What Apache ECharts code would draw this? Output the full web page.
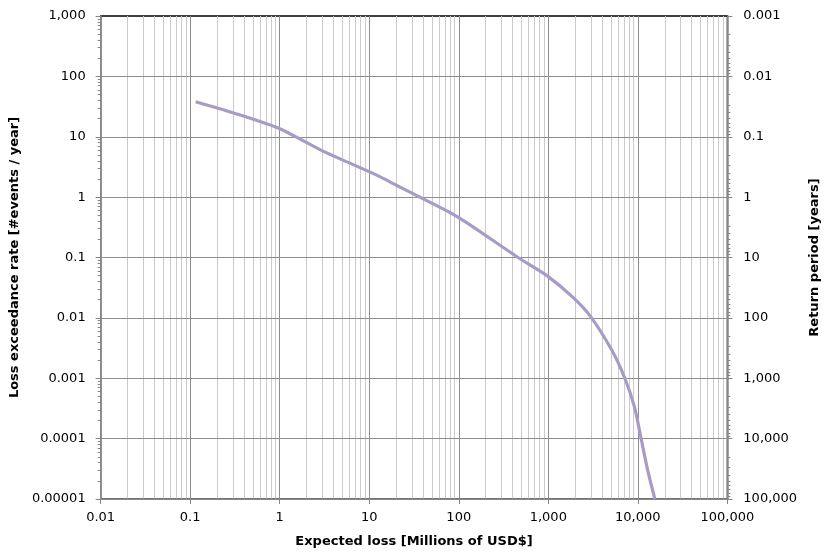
<!DOCTYPE html>
<html>
<head>
<meta charset="utf-8">
<script src="https://cdn.jsdelivr.net/npm/echarts@6/dist/echarts.min.js"></script>
<style>html,body{margin:0;padding:0;background:#fff}#c{width:829px;height:556px}</style>
</head>
<body>
<div id="c"></div>
<script>
// ---- data ----
const lossValues = [0.115, 0.3, 1, 2.96, 12.3, 20.3, 33.6, 98, 451, 957, 1876, 3000, 5130, 7160, 9200, 10890, 12880, 15500];
const rateValues = [38, 25, 13.6, 5.9, 2.29, 1.56, 1.07, 0.467, 0.102, 0.0506, 0.022, 0.0103, 0.0029, 0.001, 0.00033, 0.0001, 0.00003, 0.00001];

const xMajorTicks = [0.01, 0.1, 1, 10, 100, 1000, 10000, 100000];
const yLeftMajorTicks = [0.00001, 0.0001, 0.001, 0.01, 0.1, 1, 10, 100, 1000];
const yRightMajorTicks = [0.001, 0.01, 0.1, 1, 10, 100, 1000, 10000, 100000];
const minorMultipliers = [2, 3, 4, 5, 6, 7, 8, 9];

function minorsOf(majors) {
  const out = [];
  for (let i = 0; i < majors.length - 1; i++) {
    for (const m of minorMultipliers) out.push(+(majors[i] * m).toPrecision(6));
  }
  return out;
}
const xMinorTicks = minorsOf(xMajorTicks);
const yLeftMinorTicks = minorsOf(yLeftMajorTicks);
const yRightMinorTicks = minorsOf(yRightMajorTicks);

function fmt(v) {
  return Number(v).toLocaleString('en-US', { maximumFractionDigits: 6 });
}

const FONT = 'DejaVu Sans';
const AXIS_GRAY = '#868686';
const MAJOR_GRID = '#8e8e8e';
const MINOR_GRID = '#cbcbcb';
const LABEL_SIZE = 13;
const TITLE = { fontFamily: FONT, fontWeight: 'bold', fontSize: 13, color: '#000' };

const chart = echarts.init(document.getElementById('c'), null, { renderer: 'canvas' });
chart.setOption({
  animation: false,
  backgroundColor: '#ffffff',
  textStyle: { fontFamily: FONT },
  grid: { left: 97, right: 91, top: 16, bottom: 57, containLabel: false,
          show: true, borderColor: '#000', borderWidth: 1.3, backgroundColor: 'transparent' },
  xAxis: [
    {
      type: 'log', logBase: 10, min: 0.01, max: 100000, position: 'bottom',
      name: 'Expected loss [Millions of USD$]', nameLocation: 'middle', nameGap: 36,
      nameTextStyle: TITLE,
      axisLine: { show: true, lineStyle: { color: AXIS_GRAY, width: 1.5 } },
      axisTick: { show: true, length: 5, inside: false, customValues: xMajorTicks, lineStyle: { color: AXIS_GRAY } },
      axisLabel: { show: true, customValues: xMajorTicks, formatter: fmt, margin: 12, color: '#000', fontSize: LABEL_SIZE, fontFamily: FONT },
      splitLine: { show: true, lineStyle: { color: MAJOR_GRID, width: 1 } },
      z: 3
    },
    {
      type: 'log', logBase: 10, min: 0.01, max: 100000, position: 'bottom',
      axisLine: { show: false },
      axisTick: { show: false, customValues: xMinorTicks },
      axisLabel: { show: false },
      splitLine: { show: true, lineStyle: { color: MINOR_GRID, width: 1 } },
      z: 1
    }
  ],
  yAxis: [
    {
      type: 'log', logBase: 10, min: 0.00001, max: 1000, position: 'left',
      name: 'Loss exceedance rate [#events / year]', nameLocation: 'middle', nameGap: 72,
      nameTextStyle: TITLE,
      axisLine: { show: true, lineStyle: { color: AXIS_GRAY, width: 1.5 } },
      axisTick: { show: true, length: 5, customValues: yLeftMajorTicks, lineStyle: { color: AXIS_GRAY } },
      axisLabel: { show: true, customValues: yLeftMajorTicks, formatter: fmt, margin: 15, color: '#000', fontSize: LABEL_SIZE, fontFamily: FONT },
      splitLine: { show: true, showMaxLine: false, lineStyle: { color: MAJOR_GRID, width: 1 } },
      z: 3
    },
    {
      type: 'log', logBase: 10, min: 0.00001, max: 1000, position: 'left',
      axisLine: { show: false },
      axisTick: { show: true, length: 3, customValues: yLeftMinorTicks, lineStyle: { color: AXIS_GRAY } },
      axisLabel: { show: false }, splitLine: { show: false },
      z: 3
    },
    {
      type: 'log', logBase: 10, min: 0.001, max: 100000, inverse: true, position: 'right',
      name: 'Return period [years]', nameLocation: 'middle', nameGap: 79,
      nameTextStyle: TITLE,
      axisLine: { show: true, lineStyle: { color: AXIS_GRAY, width: 1.5 } },
      axisTick: { show: true, length: 5, customValues: yRightMajorTicks, lineStyle: { color: AXIS_GRAY } },
      axisLabel: { show: true, customValues: yRightMajorTicks, formatter: fmt, margin: 16, color: '#000', fontSize: LABEL_SIZE, fontFamily: FONT },
      splitLine: { show: false },
      z: 3
    },
    {
      type: 'log', logBase: 10, min: 0.001, max: 100000, inverse: true, position: 'right',
      axisLine: { show: false },
      axisTick: { show: true, length: 3, customValues: yRightMinorTicks, lineStyle: { color: AXIS_GRAY } },
      axisLabel: { show: false }, splitLine: { show: false },
      z: 3
    }
  ],
  series: [
    {
      type: 'line', xAxisIndex: 0, yAxisIndex: 0,
      data: lossValues.map((x, i) => [x, rateValues[i]]),
      showSymbol: false, symbol: 'none', smooth: 0.25,
      lineStyle: { color: '#A89BC6', width: 3.2 },
      z: 5
    }
  ]
});
</script>
</body>
</html>
